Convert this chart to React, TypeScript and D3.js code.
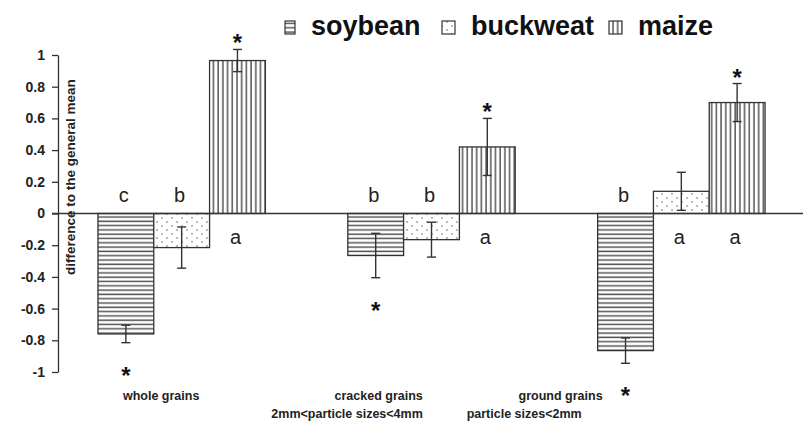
import * as d3 from 'd3'
import { useEffect, useRef } from 'react'

const groups = ['whole grains', 'cracked grains', 'ground grains']
const series = ['soybean', 'buckweat', 'maize']

const soybean = [-0.76, -0.265, -0.865]
const buckweat = [-0.215, -0.165, 0.14]
const maize = [0.965, 0.42, 0.7]

const soybeanErr = [0.055, 0.14, 0.08]
const buckweatErr = [0.13, 0.11, 0.12]
const maizeErr = [0.07, 0.18, 0.12]

const soybeanLetters = ['c', 'b', 'b']
const buckweatLetters = ['b', 'b', 'a']
const maizeLetters = ['a', 'a', 'a']

const soybeanStars = [true, true, true]
const buckweatStars = [false, false, false]
const maizeStars = [true, true, true]

const yTicks = [1, 0.8, 0.6, 0.4, 0.2, 0, -0.2, -0.4, -0.6, -0.8, -1]
const yTickLabels = ['1', '0.8', '0.6', '0.4', '0.2', '0', '-0.2', '-0.4', '-0.6', '-0.8', '-1']

const groupLabels = [
    ['whole grains'],
    ['cracked grains', '2mm<particle sizes<4mm'],
    ['ground grains', 'particle sizes<2mm'],
]

const yTitle = 'difference to the general mean'

// layout only
const labelPlacement = [
    [{ anchor: 'start', dx: 25 }],
    [{ anchor: 'end', dx: 75 }, { anchor: 'end', dx: 75 }],
    [{ anchor: 'end', dx: 5 }, { anchor: 'end', dx: -16 }],
]
const legendX = [285, 442, 609]
const legendW = [10, 13, 13]
const patternIds = ['hstripe', 'dots', 'vstripe']

const FONT = '"Liberation Sans", Arial, sans-serif'
const INK = '#333'

export default function App() {
    const ref = useRef<SVGSVGElement>(null)

    useEffect(() => {
        const width = 803
        const height = 425
        const svg = d3.select(ref.current)
            .attr('width', width)
            .attr('height', height)
        svg.selectAll('*').remove()

        const defs = svg.append('defs')
        const h = defs.append('pattern').attr('id', 'hstripe')
            .attr('patternUnits', 'userSpaceOnUse').attr('width', 8).attr('height', 4.3)
        h.append('rect').attr('width', 8).attr('height', 4.3).attr('fill', '#fff')
        h.append('line').attr('x1', 0).attr('x2', 8).attr('y1', 2).attr('y2', 2)
            .attr('stroke', '#555').attr('stroke-width', 1.5)

        const v = defs.append('pattern').attr('id', 'vstripe')
            .attr('patternUnits', 'userSpaceOnUse').attr('width', 4.7).attr('height', 8)
        v.append('rect').attr('width', 4.7).attr('height', 8).attr('fill', '#fff')
        v.append('line').attr('y1', 0).attr('y2', 8).attr('x1', 2).attr('x2', 2)
            .attr('stroke', '#555').attr('stroke-width', 1.5)

        const dt = defs.append('pattern').attr('id', 'dots')
            .attr('patternUnits', 'userSpaceOnUse').attr('width', 10).attr('height', 8)
        dt.append('rect').attr('width', 10).attr('height', 8).attr('fill', '#fff')
        dt.append('circle').attr('cx', 2).attr('cy', 2).attr('r', 0.9).attr('fill', '#999')
        dt.append('circle').attr('cx', 7).attr('cy', 6).attr('r', 0.9).attr('fill', '#999')

        const x0 = d3.scaleBand()
            .domain(groups)
            .range([58, 805])
            .paddingInner(0.33)
            .paddingOuter(0.16)
        const x1 = d3.scaleBand()
            .domain(series)
            .range([0, x0.bandwidth()])

        const y = d3.scaleLinear()
            .domain([-1, 1])
            .range([372, 55])

        const values = [soybean, buckweat, maize]
        const errs = [soybeanErr, buckweatErr, maizeErr]
        const letters = [soybeanLetters, buckweatLetters, maizeLetters]
        const stars = [soybeanStars, buckweatStars, maizeStars]

        const rows = groups.flatMap((g, i) => series.map((s, j) => ({
            g, s, i, j,
            value: values[j][i],
            err: errs[j][i],
            letter: letters[j][i],
            star: stars[j][i],
        })))

        // y axis
        const axis = svg.append('g')
            .attr('transform', 'translate(58,0)')
            .call(d3.axisLeft(y)
                .tickValues(yTicks)
                .tickFormat((d, i) => yTickLabels[i])
                .tickSize(6)
                .tickSizeOuter(0)
                .tickPadding(7))
        axis.select('.domain').attr('stroke', INK).attr('stroke-width', 1.3)
        axis.selectAll('.tick line').attr('stroke', INK).attr('stroke-width', 1.3)
        axis.selectAll('.tick text')
            .attr('font-family', FONT)
            .attr('font-size', 14)
            .attr('font-weight', 'bold')
            .attr('fill', '#222')

        svg.append('text')
            .attr('transform', `translate(75,${y(0.23)}) rotate(-90)`)
            .attr('text-anchor', 'middle')
            .attr('font-family', FONT)
            .attr('font-size', 13.5)
            .attr('font-weight', 'bold')
            .attr('fill', '#222')
            .text(yTitle)

        // bars
        const cx = (d: any) => (x0(d.g) as number) + (x1(d.s) as number) + x1.bandwidth() / 2

        svg.append('g')
            .selectAll('rect')
            .data(rows)
            .join('rect')
            .attr('x', d => (x0(d.g) as number) + (x1(d.s) as number))
            .attr('y', d => Math.min(y(d.value), y(0)))
            .attr('width', x1.bandwidth())
            .attr('height', d => Math.abs(y(d.value) - y(0)))
            .attr('fill', d => `url(#${patternIds[d.j]})`)
            .attr('stroke', INK)
            .attr('stroke-width', 1.3)

        // zero line
        svg.append('line')
            .attr('x1', 52).attr('x2', 803)
            .attr('y1', y(0)).attr('y2', y(0))
            .attr('stroke', INK).attr('stroke-width', 1.5)

        // error bars
        const eb = svg.append('g').attr('stroke', INK).attr('stroke-width', 1.4)
        rows.forEach(d => {
            const c = cx(d)
            const top = y(d.value + d.err)
            const bot = y(d.value - d.err)
            eb.append('line').attr('x1', c).attr('x2', c).attr('y1', top).attr('y2', bot)
            eb.append('line').attr('x1', c - 4.5).attr('x2', c + 4.5).attr('y1', top).attr('y2', top)
            eb.append('line').attr('x1', c - 4.5).attr('x2', c + 4.5).attr('y1', bot).attr('y2', bot)
        })

        // letters
        svg.append('g')
            .selectAll('text')
            .data(rows)
            .join('text')
            .attr('x', d => cx(d) - 2)
            .attr('y', d => d.value < 0 ? y(0) - 12 : y(0) + 30)
            .attr('text-anchor', 'middle')
            .attr('font-family', FONT)
            .attr('font-size', 20)
            .attr('fill', '#222')
            .text(d => d.letter)

        // stars
        svg.append('g')
            .selectAll('text')
            .data(rows.filter(d => d.star))
            .join('text')
            .attr('x', d => cx(d))
            .attr('y', d => (d.value > 0 ? y(d.value + d.err) - 12 : y(d.value - d.err) + 27) + 14)
            .attr('text-anchor', 'middle')
            .attr('font-family', FONT)
            .attr('font-size', 24)
            .attr('font-weight', 'bold')
            .attr('fill', '#111')
            .text('*')

        // category labels
        groupLabels.forEach((lines, i) => {
            lines.forEach((t, k) => {
                const p = labelPlacement[i][k]
                svg.append('text')
                    .attr('x', (x0(groups[i]) as number) + p.dx)
                    .attr('y', 400 + k * 18)
                    .attr('text-anchor', p.anchor)
                    .attr('font-family', FONT)
                    .attr('font-size', 12.5)
                    .attr('font-weight', 'bold')
                    .attr('fill', '#222')
                    .text(t)
            })
        })

        // legend
        const lg = svg.append('g')
        series.forEach((s, j) => {
            lg.append('rect')
                .attr('x', legendX[j]).attr('y', 21)
                .attr('width', legendW[j]).attr('height', 13)
                .attr('fill', `url(#${patternIds[j]})`)
                .attr('stroke', INK).attr('stroke-width', 1.2)
            lg.append('text')
                .attr('x', legendX[j] + legendW[j] + 16)
                .attr('y', 35)
                .attr('font-family', FONT)
                .attr('font-size', 27)
                .attr('font-weight', 'bold')
                .attr('fill', '#111')
                .text(s)
        })
    })

    return (
        <svg ref={ref} style={{ position: 'absolute', left: 0, top: 0, background: '#fff' }}></svg>
    )
}
